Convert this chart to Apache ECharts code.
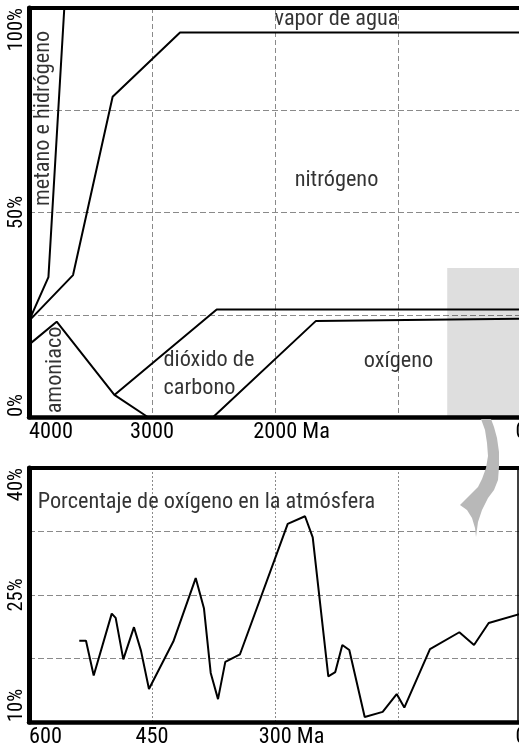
<!DOCTYPE html>
<html><head><meta charset="utf-8">
<script src="https://cdn.jsdelivr.net/npm/echarts@6/dist/echarts.min.js"></script>
<style>html,body{margin:0;padding:0;background:#fff}#c{width:519px;height:748px}</style>
</head><body><div id="c"></div>
<script>
const FONT = "'Roboto Condensed', Roboto, sans-serif";
const FS = 22.3;      // main text size
const FS_Y = 20.5;    // rotated y labels

// ---- Top chart: atmosphere composition (x = millions of years ago, y = %)
const topXTicks = [0, 1000, 2000, 3000, 4000];
const topXLabels = ['0', '', '2000 Ma', '3000', '4000'];
const topYTicks = [0, 25, 50, 75, 100];
const topYLabels = ['0%', '', '50%', '', '100%'];

const metanoLine   = [[4000, 23.5], [3842, 34.2], [3713, 100]];
const vaporLine    = [[4000, 23.5], [3642, 34.7], [3320, 78.3], [2772, 94.0], [0, 94.0]];
const amoniacoLine = [[4000, 17.7], [3775, 23.3], [3306, 5.4], [3035, 0]];
const carbonoLine  = [[3306, 5.4], [2474, 26.3], [0, 26.3]];
const oxigenoLine  = [[2502, 0], [1667, 23.5], [0, 24.0]];
const zoomRegion   = [[600, 0], [0, 36.4]];

const topNoteTexts  = ['vapor de agua', 'nitrógeno', 'dióxido de\ncarbono', 'oxígeno', 'amoniaco', 'metano e hidrógeno'];
const topNoteCoords = [[1500, 97.1], [1500, 57.9], [2911, 10.5], [996, 13.6], [3789, 11.5], [3886, 73]];

// ---- Bottom chart: oxygen percentage over last 600 Ma
const botXTicks = [0, 150, 300, 450, 600];
const botXLabels = ['0', '', '300 Ma', '450', '600'];
const botYTicks = [10, 17.5, 25, 32.5, 40];
const botYLabels = ['10%', '', '25%', '', '40%'];

const oxygenAge = [538.7, 530.5, 521.1, 499.1, 494.3, 485.0, 472.0, 463.4, 453.7, 424.0, 396.7, 386.6, 378.4, 369.5, 360.6, 342.7, 284.5, 263.4, 254.0, 235.0, 226.5, 217.9, 209.4, 190.6, 168.7, 151.6, 142.3, 111.0, 75.2, 57.3, 39.4, 0];
const oxygenPct = [19.6, 19.6, 15.5, 22.8, 22.3, 17.4, 21.2, 18.4, 13.9, 19.5, 27.0, 23.4, 15.8, 12.7, 17.1, 18.0, 33.4, 34.3, 31.8, 15.4, 15.9, 19.1, 18.5, 10.6, 11.2, 13.3, 11.7, 18.6, 20.6, 19.1, 21.7, 22.8];

const botNoteTexts = ['Porcentaje de oxígeno en la atmósfera'];
const botNoteCoords = [[590, 35.9]];

// width of the " Ma" suffix, so the number stays centred on its tick
const mctx = document.createElement('canvas').getContext('2d');
mctx.font = FS + 'px ' + FONT;
const unitPad = Math.round(mctx.measureText(' Ma').width);

function lab(ticks, labels) {
  return v => { const i = ticks.findIndex(t => Math.abs(t - v) < 1e-6); return i < 0 ? '' : labels[i]; };
}
function unitLab(ticks, labels) {
  const f = lab(ticks, labels);
  return v => { const s = f(v); return s.indexOf(' Ma') > 0 ? '{u|' + s + '}' : s; };
}

const chart = echarts.init(document.getElementById('c'), null, {renderer: 'canvas'});

const lineSeries = (data, xi, yi) => ({
  type: 'line', xAxisIndex: xi, yAxisIndex: yi, data: data, symbol: 'none',
  lineStyle: {color: '#000', width: 2}, z: 3, animation: false, silent: true
});

const noteStyles = [
  {position: 'inside'},
  {position: 'inside'},
  {position: 'right', distance: 0, align: 'left', lineHeight: 28},
  {position: 'inside'},
  {position: 'inside', rotate: 90},
  {position: 'inside', rotate: 90},
];

const xAxisBase = (gi, max, interval, ticks, labels) => ({
  gridIndex: gi, type: 'value', inverse: true, min: 0, max: max, interval: interval,
  axisLine: {onZero: false, lineStyle: {color: '#000', width: 4.5}},
  axisTick: {show: false},
  splitLine: {show: true, lineStyle: {color: '#8a8a8a', width: 1, type: gi === 0 ? [5, 3] : [2, 2]}},
  axisLabel: {
    color: '#000', fontSize: FS, fontFamily: FONT, margin: 4,
    alignMaxLabel: 'left',
    formatter: unitLab(ticks, labels),
    rich: {u: {padding: [0, 0, 0, unitPad], fontSize: FS, fontFamily: FONT, color: '#000'}}
  }
});
const xBorder = (gi, max) => ({
  gridIndex: gi, type: 'value', inverse: true, min: 0, max: max, position: 'top',
  axisLine: {onZero: false, lineStyle: {color: '#000', width: 4}},
  axisTick: {show: false}, axisLabel: {show: false}, splitLine: {show: false}
});
const yAxisBase = (gi, min, max, interval, ticks, labels) => ({
  gridIndex: gi, type: 'value', min: min, max: max, interval: interval,
  axisLine: {onZero: false, lineStyle: {color: '#000', width: 5}},
  axisTick: {show: false},
  splitLine: {show: true, lineStyle: {color: '#8a8a8a', width: 1, type: [6, 3]}},
  axisLabel: {
    color: '#000', fontSize: FS_Y, fontFamily: FONT, rotate: 90, margin: 2,
    alignMinLabel: 'left', alignMaxLabel: 'right',
    formatter: lab(ticks, labels)
  }
});

// decorative curved arrow (pixel outline)
const arrowPoints = [[481,419],[485,430],[487,443],[488,456],[486,468],[482,479],[478,487],[460,505],[467,510],[472,518],[475,528],[476,537],[478,522],[482,510],[488,498],[494,490],[498,480],[499,467],[499,452],[497,438],[494,427],[491,419]];

chart.setOption({
  backgroundColor: '#fff',
  animation: false,
  textStyle: {fontFamily: FONT},
  grid: [
    {left: 29, top: 8, width: 492, height: 409, containLabel: false, outerBoundsMode: 'none'},
    {left: 29, top: 468, width: 492, height: 254, containLabel: false, outerBoundsMode: 'none'}
  ],
  xAxis: [
    xAxisBase(0, 4000, 1000, topXTicks, topXLabels),
    xBorder(0, 4000),
    xAxisBase(1, 600, 150, botXTicks, botXLabels),
    xBorder(1, 600)
  ],
  yAxis: [
    yAxisBase(0, 0, 100, 25, topYTicks, topYLabels),
    yAxisBase(1, 10, 40, 7.5, botYTicks, botYLabels),
    {gridIndex: 1, type: 'value', min: 10, max: 40, position: 'right', offset: -3,
     axisLine: {show: true, onZero: false, lineStyle: {color: '#000', width: 1.5}},
     axisTick: {show: false}, axisLabel: {show: false}, splitLine: {show: false}}
  ],
  series: [
    Object.assign(lineSeries(oxigenoLine, 0, 0), {
      markArea: {silent: true, itemStyle: {color: 'rgba(0,0,0,0.13)'},
        data: [[{coord: zoomRegion[0]}, {coord: zoomRegion[1]}]]}
    }),
    lineSeries(metanoLine, 0, 0),
    lineSeries(vaporLine, 0, 0),
    lineSeries(amoniacoLine, 0, 0),
    lineSeries(carbonoLine, 0, 0),
    lineSeries(oxygenAge.map((a, i) => [a, oxygenPct[i]]), 2, 1),
    {
      type: 'scatter', xAxisIndex: 0, yAxisIndex: 0, symbolSize: 1, silent: true,
      itemStyle: {color: 'rgba(0,0,0,0)'}, z: 5,
      data: topNoteTexts.map((t, i) => ({
        value: topNoteCoords[i], name: t,
        label: Object.assign({show: true, formatter: t, color: '#000', fontSize: FS, fontFamily: FONT}, noteStyles[i])
      }))
    },
    {
      type: 'scatter', xAxisIndex: 2, yAxisIndex: 1, symbolSize: 1, silent: true,
      itemStyle: {color: 'rgba(0,0,0,0)'}, z: 5,
      data: botNoteTexts.map((t, i) => ({
        value: botNoteCoords[i], name: t,
        label: {show: true, formatter: t, color: '#000', fontSize: FS, fontFamily: FONT, position: 'right', distance: 0, align: 'left'}
      }))
    }
  ],
  graphic: [{
    type: 'polygon', z: 20, silent: true,
    shape: {points: arrowPoints},
    style: {fill: '#b8b8b8'}
  }]
});
</script></body></html>
